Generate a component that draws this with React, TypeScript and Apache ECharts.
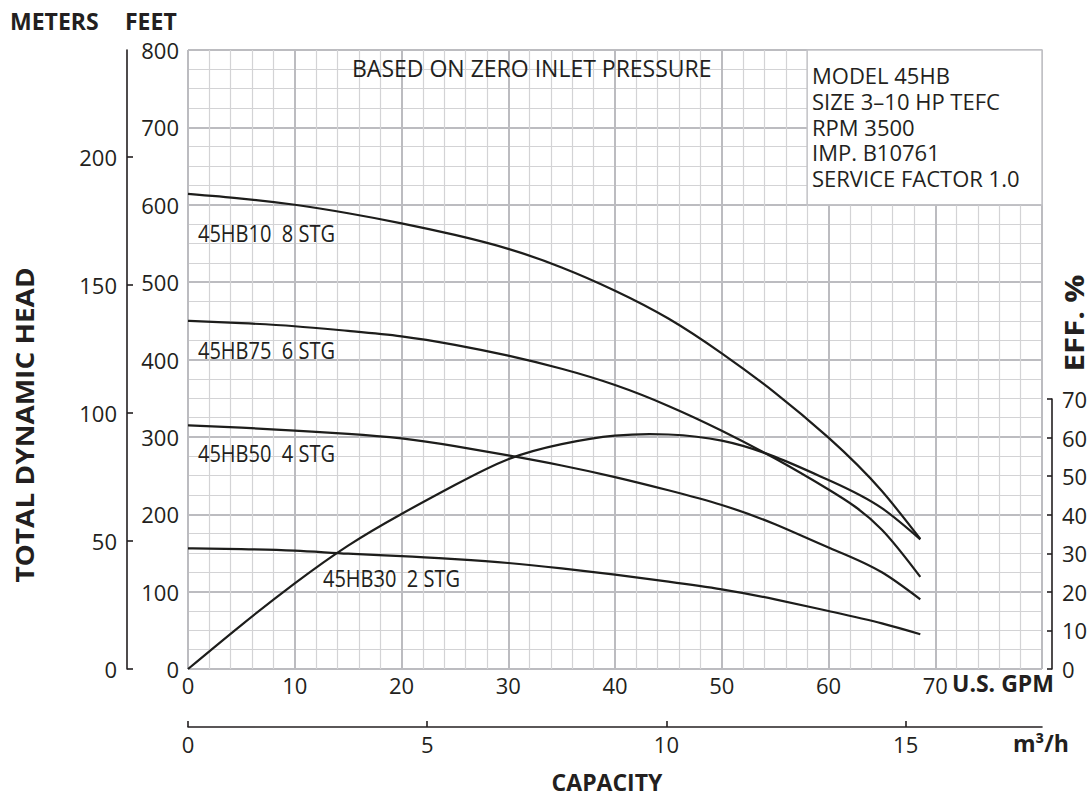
import React, { useEffect, useRef } from "react";
import * as echarts from "echarts";

// Capacity (U.S. GPM) sample points
const flowGpm = [0, 5, 10, 15, 20, 25, 30, 35, 40, 45, 50, 55, 60, 65, 68.6];
// Total dynamic head (feet)
const head45HB10 = [614, 608, 600, 589, 576, 561, 543, 519, 489, 453, 408, 357, 299, 230, 168];
const head45HB75 = [450, 447, 443, 437, 430, 419, 405, 388, 367, 340, 308, 272, 232, 180, 119];
const head45HB50 = [315, 312, 308, 304, 298, 288, 276, 263, 248, 231, 212, 187, 157, 125, 90];
const head45HB30 = [156, 155, 153, 149, 146, 142, 137, 130, 122, 113, 103, 90, 75, 59, 45];
// Efficiency (%)
const efficiency = [0, 11.4, 22.2, 32, 40.2, 47.7, 54.4, 58.3, 60.5, 60.8, 59.2, 55, 49, 41.7, 33.6];

const meterTicks = [0, 50, 100, 150, 200];
const m3hTicks = [0, 5, 10, 15];

const curveLabels = ["45HB10  8 STG", "45HB75  6 STG", "45HB50  4 STG", "45HB30  2 STG"];
const infoLines = ["MODEL 45HB", "SIZE 3\u201310 HP TEFC", "RPM 3500", "IMP. B10761", "SERVICE FACTOR 1.0"];

const FONT = "'Open Sans', 'Noto Sans', sans-serif";
const INK = "#231f20";
const MAJOR = "#bcbcc0";
const MINOR = "#d3d3d5";

const pairs = (ys: number[]) => flowGpm.map((x, i) => [x, ys[i]]);

// Natural cubic spline through pixel points (x strictly increasing) -> SVG path data
function splinePath(pts: number[][]): string {
  const n = pts.length;
  if (n < 2) return "";
  const xs = pts.map((p) => p[0]);
  const ys = pts.map((p) => p[1]);
  const h: number[] = [];
  for (let i = 0; i < n - 1; i++) h.push(xs[i + 1] - xs[i]);
  const M = new Array(n).fill(0);
  if (n > 2) {
    const a: number[] = [], b: number[] = [], c: number[] = [], d: number[] = [];
    for (let i = 1; i < n - 1; i++) {
      a.push(h[i - 1]);
      b.push(2 * (h[i - 1] + h[i]));
      c.push(h[i]);
      d.push(6 * ((ys[i + 1] - ys[i]) / h[i] - (ys[i] - ys[i - 1]) / h[i - 1]));
    }
    const m = b.length;
    for (let i = 1; i < m; i++) {
      const w = a[i] / b[i - 1];
      b[i] -= w * c[i - 1];
      d[i] -= w * d[i - 1];
    }
    const sol = new Array(m).fill(0);
    sol[m - 1] = d[m - 1] / b[m - 1];
    for (let i = m - 2; i >= 0; i--) sol[i] = (d[i] - c[i] * sol[i + 1]) / b[i];
    for (let i = 0; i < m; i++) M[i + 1] = sol[i];
  }
  let path = `M${xs[0]},${ys[0]}`;
  for (let i = 0; i < n - 1; i++) {
    const hi = h[i];
    const s = (ys[i + 1] - ys[i]) / hi;
    const d0 = s - (hi * (2 * M[i] + M[i + 1])) / 6;
    const d1 = s + (hi * (M[i] + 2 * M[i + 1])) / 6;
    const c1x = xs[i] + hi / 3, c1y = ys[i] + (d0 * hi) / 3;
    const c2x = xs[i + 1] - hi / 3, c2y = ys[i + 1] - (d1 * hi) / 3;
    path += ` C${c1x},${c1y} ${c2x},${c2y} ${xs[i + 1]},${ys[i + 1]}`;
  }
  return path;
}

export default function App() {
  const ref = useRef<HTMLDivElement>(null);
  useEffect(() => {
    if (!ref.current) return;
    const chart = echarts.init(ref.current, undefined, { renderer: "svg" });

    const curve = (name: string, values: number[], xi: number, yi: number) => {
      const data = pairs(values);
      return {
        name,
        type: "custom",
        coordinateSystem: "cartesian2d",
        xAxisIndex: xi,
        yAxisIndex: yi,
        data,
        silent: true,
        z: 5,
        renderItem: (params: any, api: any) => {
          if (params.dataIndex !== 0) return null;
          const px = data.map((d) => api.coord(d));
          return {
            type: "path",
            shape: { pathData: splinePath(px) },
            style: { fill: "none", stroke: "#1d1d1b", lineWidth: 2.2 },
          };
        },
      };
    };

    const axisText = { fontFamily: FONT, fontSize: 22, color: INK };
    const boldTitle = (text: string, x: number, y: number, extra: any = {}) => ({
      type: "text",
      x,
      y,
      z: 100,
      rotation: extra.rotation || 0,
      scaleX: extra.scaleX || 1,
      style: {
        text,
        fill: INK,
        fontFamily: FONT,
        fontSize: extra.fontSize || 23,
        fontWeight: "bold",
        align: extra.align || "left",
        verticalAlign: "middle",
      },
    });
    const plainText = (text: string, x: number, y: number, extra: any = {}) => ({
      type: "text",
      x,
      y,
      z: 100,
      scaleX: extra.scaleX || 1,
      style: {
        text,
        fill: INK,
        fontFamily: FONT,
        fontSize: extra.fontSize || 23,
        align: "left",
        verticalAlign: "middle",
      },
    });

    chart.setOption({
      animation: false,
      backgroundColor: "#ffffff",
      textStyle: { fontFamily: FONT, color: INK },
      grid: [
        { left: 188, right: 49, top: 50, bottom: 129, containLabel: false, outerBoundsMode: "none" },
        { left: 188, right: 49, top: 399, bottom: 129, containLabel: false, outerBoundsMode: "none" },
      ],
      xAxis: [
        {
          gridIndex: 0,
          type: "value",
          min: 0,
          max: 80,
          interval: 10,
          position: "bottom",
          axisLine: { show: false, onZero: false },
          axisTick: { show: false },
          axisLabel: {
            ...axisText,
            margin: 5,
            formatter: (v: number) => (v >= 80 ? "" : String(v)),
          },
          splitLine: { show: true, lineStyle: { color: MAJOR, width: 2 } },
          minorTick: { show: false, splitNumber: 5 },
          minorSplitLine: { show: true, lineStyle: { color: MINOR, width: 1.2 } },
        },
        {
          gridIndex: 0,
          type: "value",
          min: 0,
          max: 17.85,
          interval: 5,
          position: "bottom",
          offset: 58,
          axisLine: { show: true, onZero: false, lineStyle: { color: INK, width: 1.6 } },
          axisTick: { show: true, inside: true, length: 6, lineStyle: { color: INK, width: 1.6 }, customValues: m3hTicks },
          axisLabel: { ...axisText, margin: 6, customValues: m3hTicks },
          splitLine: { show: false },
        },
        { gridIndex: 1, type: "value", min: 0, max: 80, show: false },
      ],
      yAxis: [
        {
          gridIndex: 0,
          type: "value",
          min: 0,
          max: 800,
          interval: 100,
          position: "left",
          axisLine: { show: false, onZero: false },
          axisTick: { show: false },
          axisLabel: { ...axisText, margin: 9 },
          splitLine: { show: true, lineStyle: { color: MAJOR, width: 2 } },
          minorTick: { show: false, splitNumber: 4 },
          minorSplitLine: { show: true, lineStyle: { color: MINOR, width: 1.2 } },
        },
        {
          gridIndex: 0,
          type: "value",
          min: 0,
          max: 241.8,
          interval: 50,
          position: "left",
          offset: 61,
          axisLine: { show: true, onZero: false, lineStyle: { color: INK, width: 1.6 } },
          axisTick: { show: true, inside: true, length: 6, lineStyle: { color: INK, width: 1.6 }, customValues: meterTicks },
          axisLabel: { ...axisText, margin: 10, customValues: meterTicks },
          splitLine: { show: false },
        },
        {
          gridIndex: 1,
          type: "value",
          min: 0,
          max: 70,
          interval: 10,
          position: "right",
          offset: 10,
          axisLine: { show: true, onZero: false, lineStyle: { color: INK, width: 1.6 } },
          axisTick: { show: true, inside: true, length: 5, lineStyle: { color: INK, width: 1.6 } },
          axisLabel: { ...axisText, margin: 10 },
          splitLine: { show: false },
        },
      ],
      series: [
        {
          name: "box",
          type: "line",
          xAxisIndex: 0,
          yAxisIndex: 0,
          data: [],
          silent: true,
          markArea: {
            silent: true,
            itemStyle: { color: "#ffffff", borderColor: "#c2c2c6", borderWidth: 1.5 },
            label: { show: false },
            data: [[{ coord: [58, 800] }, { coord: [80, 600] }]],
          },
        },
        curve("45HB10", head45HB10, 0, 0),
        curve("45HB75", head45HB75, 0, 0),
        curve("45HB50", head45HB50, 0, 0),
        curve("45HB30", head45HB30, 0, 0),
        curve("EFF", efficiency, 2, 2),
      ],
      graphic: [
        boldTitle("METERS", 10, 21),
        boldTitle("FEET", 125, 21),
        boldTitle("TOTAL DYNAMIC HEAD", 25, 425, { rotation: Math.PI / 2, align: "center", fontSize: 25, scaleX: 1.12 }),
        boldTitle("EFF. %", 1074, 323, { rotation: Math.PI / 2, align: "center", fontSize: 26, scaleX: 1.2 }),
        boldTitle("U.S. GPM", 952, 683),
        boldTitle("m\u00b3/h", 1013, 743),
        boldTitle("CAPACITY", 607, 782, { align: "center" }),
        plainText("BASED ON ZERO INLET PRESSURE", 352, 68),
        ...infoLines.map((t, i) => plainText(t, 812, 75 + i * 25.8, { fontSize: 22 })),
        plainText(curveLabels[0], 198, 233, { scaleX: 0.87 }),
        plainText(curveLabels[1], 198, 350, { scaleX: 0.87 }),
        plainText(curveLabels[2], 198, 453, { scaleX: 0.87 }),
        plainText(curveLabels[3], 323, 578, { scaleX: 0.87 }),
      ],
    });
    return () => chart.dispose();
  }, []);
  return (
    <div
      ref={ref}
      style={{ position: "fixed", left: 0, top: 0, width: 1091, height: 798, background: "#fff" }}
    />
  );
}
